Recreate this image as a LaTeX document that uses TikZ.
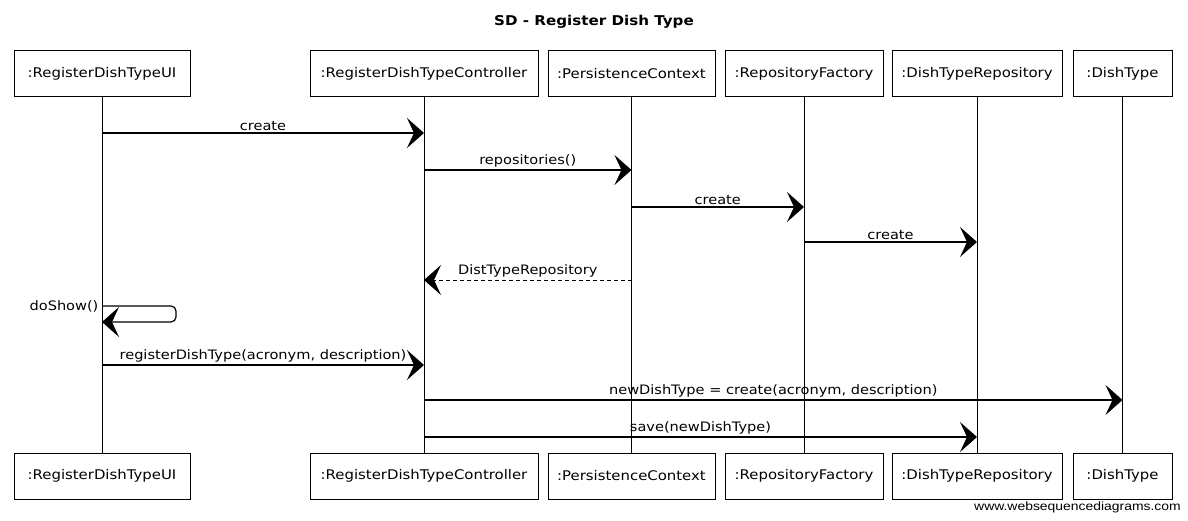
\documentclass[tikz,border=0pt]{standalone}
\usepackage{fontspec}
\usepackage{graphicx}
\setmainfont[FakeStretch=1.12]{DejaVu Sans}
\newfontfamily\footfont{Liberation Sans}
\usetikzlibrary{arrows.meta,calc}
\begin{document}
\begin{tikzpicture}[x=1pt,y=-1pt,
  obj/.style={draw,line width=0.9pt,minimum height=46pt,inner sep=0pt,fill=white,font=\fontsize{13.3}{15}\selectfont},
  life/.style={line width=0.8pt},
  msg/.style={line width=1.2pt,-{Stealth[length=17pt,width=30pt,inset=7pt]}},
  ret/.style={msg,dash pattern=on 4pt off 3pt,line width=1pt},
  lbl/.style={font=\fontsize{13}{15}\selectfont,above=1pt,inner sep=1pt}
]
\useasboundingbox (0,0) rectangle (1188,520);

\node[font=\bfseries\fontsize{13.5}{15}\selectfont] (title) at (594,22) {SD - Register Dish Type};

% top boxes
\node[obj,minimum width=176pt] (uiT) at (102,73.5) {:RegisterDishTypeUI};
\node[obj,minimum width=228pt] (ctT) at (424,73.5) {:RegisterDishTypeController};
\node[obj,minimum width=167pt] (pcT) at (631.5,73.5) {:PersistenceContext};
\node[obj,minimum width=158pt] (rfT) at (804,73.5) {:RepositoryFactory};
\node[obj,minimum width=170pt] (drT) at (977,73.5) {:DishTypeRepository};
\node[obj,minimum width=99pt] (dtT) at (1122.5,73.5) {:DishType};
% bottom boxes
\node[obj,minimum width=176pt] (uiB) at (102,476) {:RegisterDishTypeUI};
\node[obj,minimum width=228pt] (ctB) at (424,476) {:RegisterDishTypeController};
\node[obj,minimum width=167pt] (pcB) at (631.5,476) {:PersistenceContext};
\node[obj,minimum width=158pt] (rfB) at (804,476) {:RepositoryFactory};
\node[obj,minimum width=170pt] (drB) at (977,476) {:DishTypeRepository};
\node[obj,minimum width=99pt] (dtB) at (1122.5,476) {:DishType};

% lifelines
\draw[life] (uiT) -- (uiB);
\draw[life] (ctT) -- (ctB);
\draw[life] (pcT) -- (pcB);
\draw[life] (rfT) -- (rfB);
\draw[life] (drT) -- (drB);
\draw[life] (dtT) -- (dtB);

% message levels
\coordinate (y1) at (0,133);
\coordinate (y2) at (0,170);
\coordinate (y3) at (0,207);
\coordinate (y4) at (0,242);
\coordinate (y5) at (0,280);
\coordinate (y6) at (0,306);
\coordinate (y6b) at (0,322);
\coordinate (y7) at (0,365);
\coordinate (y8) at (0,400);
\coordinate (y9) at (0,437);

\draw[msg] (uiT |- y1) -- node[lbl]{create} (ctT |- y1);
\draw[msg] (ctT |- y2) -- node[lbl]{repositories()} (pcT |- y2);
\draw[msg] (pcT |- y3) -- node[lbl]{create} (rfT |- y3);
\draw[msg] (rfT |- y4) -- node[lbl]{create} (drT |- y4);
\draw[ret] (pcT |- y5) -- node[lbl]{DistTypeRepository} (ctT |- y5);
\draw[msg,rounded corners=5pt] (uiT |- y6) node[left,font=\fontsize{13}{15}\selectfont,inner sep=3pt]{doShow()} -- ++(74,0) -- ++(0,16) -- (uiT |- y6b);
\draw[msg] (uiT |- y7) -- node[lbl]{registerDishType(acronym, description)} (ctT |- y7);
\draw[msg] (ctT |- y8) -- node[lbl]{newDishType = create(acronym, description)} (dtT |- y8);
\draw[msg] (ctT |- y9) -- node[lbl]{save(newDishType)} (drT |- y9);

\node[anchor=east,font=\footfont\fontsize{12}{14}\selectfont,inner sep=0pt] (foot) at (1181,507) {\scalebox{1.16}[1]{www.websequencediagrams.com}};
\end{tikzpicture}
\end{document}
